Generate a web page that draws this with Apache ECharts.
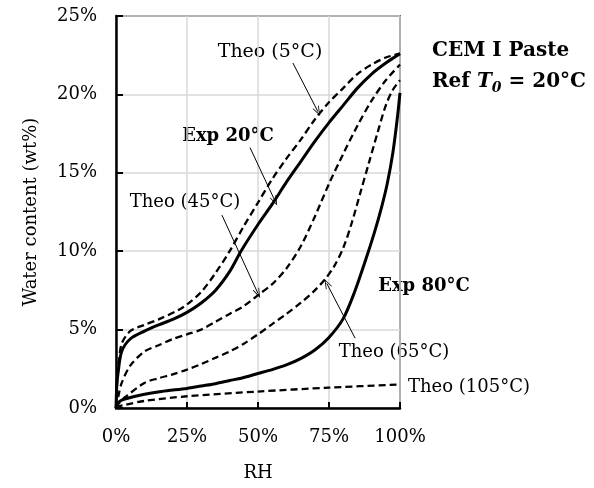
<!DOCTYPE html>
<html>
<head>
<meta charset="utf-8">
<script src="https://cdn.jsdelivr.net/npm/echarts@6/dist/echarts.min.js"></script>
<style>
html,body{margin:0;padding:0;background:#fff;}
#chart{width:594px;height:488px;}
</style>
</head>
<body>
<div id="chart"></div>
<script>
// RH (%) vs water content (wt%)
var theo5 = [[0,0],[0.5,2.0],[0.9,2.8],[2,4.1],[5,4.9],[10,5.3],[15,5.65],[22,6.25],[25,6.6],[30,7.4],[35,8.6],[40,10.0],[45,11.6],[50,13.1],[55,14.6],[60,15.9],[65,17.1],[70,18.4],[75,19.5],[80,20.4],[85,21.3],[90,21.9],[95,22.35],[100,22.6]];
var exp20 = [[0,0],[0.3,1.5],[0.7,2.2],[2,3.6],[5,4.4],[10,4.9],[15,5.3],[20,5.65],[25,6.1],[30,6.7],[35,7.5],[40,8.7],[44,10.0],[50,11.7],[55,13.0],[60,14.4],[65,15.7],[70,17.0],[75,18.2],[80,19.3],[85,20.4],[90,21.3],[95,22.0],[100,22.6]];
var theo45 = [[0,0],[1,0.9],[2,1.6],[5,2.7],[10,3.6],[15,4.0],[20,4.4],[25,4.7],[30,5.0],[35,5.5],[40,6.0],[45,6.5],[50,7.2],[55,7.9],[60,8.9],[65,10.3],[70,12.2],[75,14.3],[80,16.2],[85,18.0],[90,19.6],[95,20.9],[100,21.9]];
var theo65 = [[0,0],[1,0.3],[3.3,0.7],[10,1.6],[15,1.9],[20,2.15],[25,2.45],[30,2.8],[35,3.2],[40,3.6],[45,4.1],[50,4.7],[55,5.35],[60,6.0],[65,6.7],[70,7.5],[74,8.3],[77,9.1],[80,10.2],[83,11.8],[86,13.7],[89,15.6],[92,17.5],[95,19.3],[97.5,20.3],[100,20.9]];
var exp80 = [[0,0],[0.5,0.25],[2,0.5],[8,0.8],[16,1.05],[25,1.25],[30,1.4],[35,1.55],[40,1.75],[45,1.95],[50,2.2],[55,2.45],[60,2.75],[65,3.15],[70,3.7],[75,4.5],[80,5.7],[84,7.4],[88,9.5],[91,11.2],[93.5,12.8],[95.5,14.3],[97.5,16.3],[99,18.4],[100,20.1]];
var theo105 = [[0,0],[1,0.1],[3.3,0.2],[10,0.45],[25,0.75],[50,1.05],[75,1.3],[100,1.5]];

var xTicks = {min:0, max:100, step:25};
var yTicks = {min:0, max:25, step:5};

// annotation arrows: [from, to] in data coords
var arrows = [
  [[62.3,22.0],[71.1,18.9]],
  [[47.2,16.6],[56.0,13.2]],
  [[37.3,12.3],[50.0,7.3]],
  [[84.2,4.45],[74.2,7.95]]
];

var SERIF = '"DejaVu Serif", "Liberation Serif", serif';
var chart = echarts.init(document.getElementById('chart'), null, {renderer:'canvas'});

function lineSeries(name, data, dashed){
  return {
    name:name, type:'line', data:data, showSymbol:false, symbol:'none',
    smooth:0.3,
    lineStyle:{color:'#000', width: dashed ? 2.3 : 3, type: dashed ? [7,4] : 'solid'},
    z: dashed ? 3 : 4, silent:true, animation:false
  };
}

var arrowPath = 'path://M5,0 L10,12 L8.8,12 L5,3 L1.2,12 L0,12 Z';

var series = [
  lineSeries('Theo5', theo5, true),
  lineSeries('Exp20', exp20, false),
  lineSeries('Theo45', theo45, true),
  lineSeries('Theo65', theo65, true),
  lineSeries('Exp80', exp80, false),
  lineSeries('Theo105', theo105, true)
];
series[5].markLine = {
  silent:true, animation:false,
  symbol:['none', arrowPath], symbolSize:[7,10],
  lineStyle:{color:'#000', width:1, type:'solid'},
  label:{show:false},
  data: arrows.map(function(a){ return [{coord:a[0]},{coord:a[1]}]; })
};

var txt = function(x, y, text, opts){
  opts = opts || {};
  return {type:'text', x:x, y:y, silent:true, style:{
    text:text, fill:'#000', font:(opts.bold?'bold ':'') + (opts.size||19) + 'px ' + SERIF,
    textAlign:opts.align||'center', textVerticalAlign:'middle'
  }};
};

chart.setOption({
  animation:false,
  backgroundColor:'#fff',
  grid:{left:116, right:194, top:16, bottom:80, show:true, borderColor:'#000', borderWidth:1.5, backgroundColor:'transparent'},
  xAxis:{
    type:'value', min:xTicks.min, max:xTicks.max, interval:xTicks.step,
    name:'RH', nameLocation:'middle', nameGap:56,
    nameTextStyle:{fontFamily:SERIF, fontSize:18, color:'#000'},
    axisLine:{lineStyle:{color:'#000', width:2.5}},
    axisTick:{inside:true, length:6, lineStyle:{color:'#000', width:2}},
    axisLabel:{formatter:'{value}%', fontFamily:SERIF, fontSize:18, color:'#000', margin:20},
    splitLine:{show:true, lineStyle:{color:'#d9d9d9', width:1.5}}
  },
  yAxis:{
    type:'value', min:yTicks.min, max:yTicks.max, interval:yTicks.step,
    name:'Water content (wt%)', nameLocation:'middle', nameGap:76,
    nameTextStyle:{fontFamily:SERIF, fontSize:18, color:'#000'},
    axisLine:{lineStyle:{color:'#000', width:2.5}},
    axisTick:{inside:true, length:7, lineStyle:{color:'#000', width:2}},
    axisLabel:{formatter:'{value}%', fontFamily:SERIF, fontSize:18, color:'#000', margin:19},
    splitLine:{show:true, lineStyle:{color:'#d9d9d9', width:1.5}}
  },
  series:series,
  graphic:[
    txt(270, 52, 'Theo (5°C)'),
    txt(228, 136, 'Exp 20°C', {bold:true, size:18}),
    txt(185, 202, 'Theo (45°C)', {size:18}),
    txt(394, 352, 'Theo (65°C)', {size:18}),
    txt(408, 387, 'Theo (105°C)', {align:'left', size:18}),
    txt(424, 286, 'Exp 80°C', {bold:true, size:18}),
    txt(432, 51, 'CEM I Paste', {bold:true, size:20, align:'left'}),
    {type:'text', x:432, y:82, silent:true, style:{
      text:'{b|Ref }{i|T}{s|0}{b| = 20°C}', textAlign:'left', textVerticalAlign:'middle',
      rich:{
        b:{font:'bold 20px ' + SERIF, fill:'#000'},
        i:{font:'italic bold 20px ' + SERIF, fill:'#000'},
        s:{font:'italic bold 14px ' + SERIF, fill:'#000', padding:[12,0,0,0]}
      }
    }}
  ]
});
</script>
</body>
</html>
